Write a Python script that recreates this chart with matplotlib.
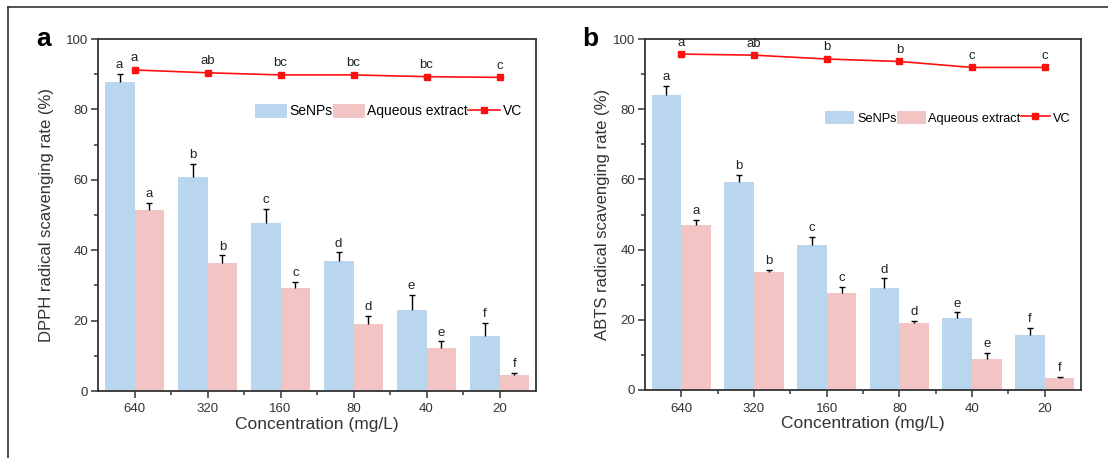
import matplotlib.pyplot as plt
from matplotlib.lines import Line2D
from matplotlib.ticker import MultipleLocator
import numpy as np

plt.rcParams['font.family'] = ['Liberation Sans', 'DejaVu Sans']

conc = ['640', '320', '160', '80', '40', '20']

# panel a - DPPH
dpph_se = [87.7, 60.7, 47.8, 37.0, 23.1, 15.6]
dpph_se_err = [2.3, 3.8, 4.0, 2.4, 4.2, 3.7]
dpph_aq = [51.5, 36.4, 29.4, 18.9, 12.2, 4.6]
dpph_aq_err = [2.0, 2.1, 1.5, 2.4, 1.9, 0.5]
dpph_vc = [91.2, 90.4, 89.8, 89.8, 89.3, 89.1]
dpph_se_let = ['a', 'b', 'c', 'd', 'e', 'f']
dpph_aq_let = ['a', 'b', 'c', 'd', 'e', 'f']
dpph_vc_let = ['a', 'ab', 'bc', 'bc', 'bc', 'c']

# panel b - ABTS
abts_se = [84.1, 59.4, 41.4, 29.0, 20.5, 15.6]
abts_se_err = [2.6, 1.8, 2.2, 2.8, 1.6, 2.0]
abts_aq = [47.0, 33.5, 27.7, 19.2, 8.7, 3.3]
abts_aq_err = [1.5, 0.8, 1.6, 0.5, 1.8, 0.4]
abts_vc = [95.7, 95.4, 94.3, 93.6, 91.9, 91.9]
abts_se_let = ['a', 'b', 'c', 'd', 'e', 'f']
abts_aq_let = ['a', 'b', 'c', 'd', 'e', 'f']
abts_vc_let = ['a', 'ab', 'b', 'b', 'c', 'c']

blue = '#bad6ee'
pink = '#f2c4c4'
red = '#ff1010'
dark = '#333333'

fig = plt.figure(figsize=(11.08, 4.58), dpi=100)

# outer frame (top and left only)
fig.add_artist(Line2D([8/1108, 1], [1 - 7/458, 1 - 7/458], color=dark, lw=1.2, transform=fig.transFigure))
fig.add_artist(Line2D([8/1108, 8/1108], [0, 1 - 7/458], color=dark, lw=1.2, transform=fig.transFigure))


def upper_err(ax, xs, ys, errs):
    # one-sided error bar: stem from bar top plus a cap
    tops = np.array(ys) + np.array(errs)
    ax.vlines(xs, ys, tops, color='black', lw=1, zorder=3)
    ax.plot(xs, tops, ls='none', marker='_', ms=5, mew=1, color='black', zorder=3)


def panel(rect, se, se_err, aq, aq_err, vc, se_let, aq_let, vc_let, ylabel, tag,
          leg_xy, leg_fs, ylab_x, tag_x):
    ax = fig.add_axes(rect)
    x = np.arange(len(conc))
    w = 0.41
    b1 = ax.bar(x - w/2, se, w, color=blue, label='SeNPs', zorder=2)
    b2 = ax.bar(x + w/2, aq, w, color=pink, label='Aqueous extract', zorder=2)
    upper_err(ax, x - w/2, se, se_err)
    upper_err(ax, x + w/2, aq, aq_err)
    ln, = ax.plot(x, vc, color=red, lw=1.2, marker='s', ms=5, label='VC', zorder=4)

    for i in range(len(conc)):
        ax.annotate(se_let[i], (x[i] - w/2, se[i] + se_err[i]), xytext=(0, 2),
                    textcoords='offset points', ha='center', va='bottom', fontsize=9.5, color='#222222')
        ax.annotate(aq_let[i], (x[i] + w/2, aq[i] + aq_err[i]), xytext=(0, 2),
                    textcoords='offset points', ha='center', va='bottom', fontsize=9.5, color='#222222')
        ax.annotate(vc_let[i], (x[i], vc[i]), xytext=(0, 4),
                    textcoords='offset points', ha='center', va='bottom', fontsize=9.5, color='#222222')

    ax.set_xlim(-0.5, 5.5)
    ax.set_ylim(0, 100)
    ax.set_xticks(x)
    ax.set_xticklabels(conc)
    ax.set_xticks(x[:-1] + 0.5, minor=True)
    ax.yaxis.set_major_locator(MultipleLocator(20))
    ax.yaxis.set_minor_locator(MultipleLocator(10))
    ax.tick_params(axis='both', which='major', direction='out', length=5, width=1.1,
                   color=dark, labelcolor=dark, labelsize=9.5, pad=2)
    ax.tick_params(axis='x', which='major', pad=4)
    ax.tick_params(axis='both', which='minor', direction='out', length=3, width=1.1, color=dark)
    for s in ax.spines.values():
        s.set_color(dark)
        s.set_linewidth(1.3)

    ax.set_xlabel('Concentration (mg/L)', fontsize=12.5, color=dark, labelpad=1)
    ax.set_ylabel(ylabel, fontsize=12, color=dark)
    ax.yaxis.set_label_coords(ylab_x, 0.5)

    ax.legend(handles=[b1, b2, ln], ncol=3, loc='center left', bbox_to_anchor=leg_xy,
              frameon=False, fontsize=leg_fs, handlelength=2.3, handleheight=1.15,
              handletextpad=0.2, columnspacing=0.0, borderpad=0, borderaxespad=0)

    ax.text(tag_x, 1.0, tag, transform=ax.transAxes, fontsize=19, fontweight='bold',
            ha='center', va='center', color='black')
    return ax


panel([98/1108, 67/458, 438/1108, 352/458], dpph_se, dpph_se_err, dpph_aq, dpph_aq_err, dpph_vc,
      dpph_se_let, dpph_aq_let, dpph_vc_let, 'DPPH radical scavenging rate (%)', 'a',
      (0.358, 0.795), 10, -0.10, -0.125)
panel([645/1108, 68/458, 436/1108, 351/458], abts_se, abts_se_err, abts_aq, abts_aq_err, abts_vc,
      abts_se_let, abts_aq_let, abts_vc_let, 'ABTS radical scavenging rate (%)', 'b',
      (0.413, 0.775), 9.2, -0.08, -0.125)

fig.savefig('out.png', dpi=100)
